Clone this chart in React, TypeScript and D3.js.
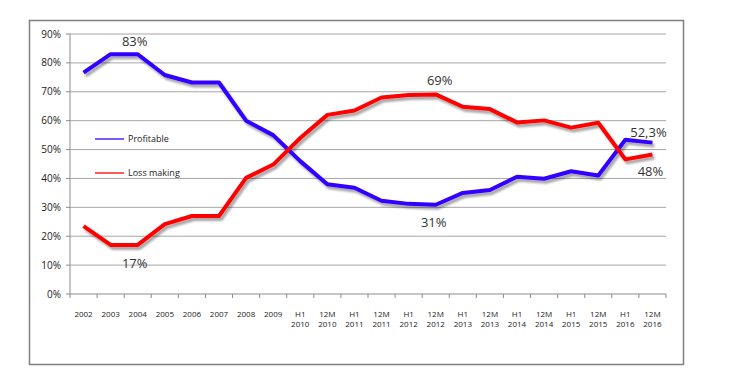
import React from "react";
import * as d3 from "d3";

const categories: string[][] = [
  ["2002"], ["2003"], ["2004"], ["2005"], ["2006"], ["2007"], ["2008"], ["2009"],
  ["H1", "2010"], ["12M", "2010"], ["H1", "2011"], ["12M", "2011"],
  ["H1", "2012"], ["12M", "2012"], ["H1", "2013"], ["12M", "2013"],
  ["H1", "2014"], ["12M", "2014"], ["H1", "2015"], ["12M", "2015"],
  ["H1", "2016"], ["12M", "2016"],
];

const profitable: number[] = [
  76.6, 83, 83, 75.8, 73.2, 73.2, 60, 55, 46, 38, 36.8, 32.3,
  31.2, 30.9, 35, 36, 40.6, 39.9, 42.5, 41, 53.4, 52.4,
];

const lossMaking: number[] = [
  23.5, 17, 17, 24.2, 27, 27, 40.2, 44.8, 54, 62, 63.5, 68,
  68.9, 69.1, 64.8, 64, 59.4, 60.1, 57.6, 59.3, 46.6, 48.3,
];

const yTicks: number[] = [0, 10, 20, 30, 40, 50, 60, 70, 80, 90];

const annotations: { idx: number; value: number; text: string; dy: number; dx: number }[] = [
  { idx: 2, value: 83, text: "83%", dy: -13, dx: -3 },
  { idx: 2, value: 17, text: "17%", dy: 19, dx: -3 },
  { idx: 13, value: 69.1, text: "69%", dy: -14, dx: 4 },
  { idx: 13, value: 30.9, text: "31%", dy: 18, dx: -2 },
  { idx: 21, value: 52.4, text: "52,3%", dy: -10, dx: -4 },
  { idx: 21, value: 48.3, text: "48%", dy: 17, dx: -2 },
];

const FONT = "'Open Sans', 'DejaVu Sans', sans-serif";

export default function App() {
  const W = 751, H = 379;
  const x0 = 70, x1 = 666, yTop = 34, yBot = 294;
  const x = d3.scaleBand<number>().domain(d3.range(categories.length)).range([x0, x1]);
  const y = d3.scaleLinear().domain([0, 90]).range([yBot, yTop]);
  const cx = (i: number) => (x(i) as number) + x.bandwidth() / 2;
  const line = d3.line<number>().x((_, i) => cx(i)).y((d) => y(d));
  const boundaries = d3.range(categories.length + 1).map((i) => x0 + i * x.bandwidth());

  return (
    <svg width={W} height={H} style={{ position: "absolute", left: 0, top: 0 }} fontFamily={FONT}>
      <defs>
        <filter id="sh" x="-10%" y="-10%" width="120%" height="130%">
          <feGaussianBlur in="SourceAlpha" stdDeviation="1.2" />
          <feOffset dx="2" dy="3" result="b" />
          <feComponentTransfer>
            <feFuncA type="linear" slope="0.35" />
          </feComponentTransfer>
          <feMerge>
            <feMergeNode />
            <feMergeNode in="SourceGraphic" />
          </feMerge>
        </filter>
      </defs>
      <rect x={0} y={0} width={W} height={H} fill="#fff" />
      <rect x={29.5} y={20.5} width={654} height={344} fill="#fff" stroke="#808080" strokeWidth={1.5} />
      {yTicks.map((t) => (
        <g key={t}>
          {t > 0 && (
            <line x1={x0} x2={x1} y1={y(t)} y2={y(t)} stroke="#a6a6a6" strokeWidth={1} />
          )}
          <line x1={x0 - 4} x2={x0} y1={y(t)} y2={y(t)} stroke="#8c8c8c" />
          <text x={61} y={y(t)} dy="0.35em" textAnchor="end" fontSize={10} fill="#222">
            {t}%
          </text>
        </g>
      ))}
      <line x1={x0} x2={x0} y1={yTop} y2={yBot} stroke="#8c8c8c" />
      <line x1={x0} x2={x1} y1={yBot} y2={yBot} stroke="#8c8c8c" />
      {boundaries.map((b, i) => (
        <line key={i} x1={b} x2={b} y1={yBot} y2={yBot + 4} stroke="#8c8c8c" />
      ))}
      {categories.map((c, i) => (
        <text key={i} x={cx(i)} y={314} textAnchor="middle" fontSize={8} fill="#222">
          {c.map((s, j) => (
            <tspan key={j} x={cx(i)} dy={j === 0 ? "0.35em" : 10.5}>
              {s}
            </tspan>
          ))}
        </text>
      ))}
      <line x1={95} x2={124} y1={139} y2={139} stroke="#3300ff" strokeWidth={1.3} />
      <text x={128} y={139} dy="0.35em" fontSize={9} fill="#222">Profitable</text>
      <line x1={95} x2={124} y1={173} y2={173} stroke="#ff0000" strokeWidth={1.3} />
      <text x={128} y={173} dy="0.35em" fontSize={9} fill="#222">Loss making</text>
      <g filter="url(#sh)">
        <path d={line(profitable) || ""} fill="none" stroke="#3300ff" strokeWidth={4} strokeLinejoin="round" />
        <path d={line(lossMaking) || ""} fill="none" stroke="#ff0000" strokeWidth={4} strokeLinejoin="round" />
      </g>
      {annotations.map((a, i) => (
        <text key={i} x={cx(a.idx) + a.dx} y={y(a.value) + a.dy} dy="0.35em" textAnchor="middle" fontSize={13} fill="#333">
          {a.text}
        </text>
      ))}
    </svg>
  );
}
